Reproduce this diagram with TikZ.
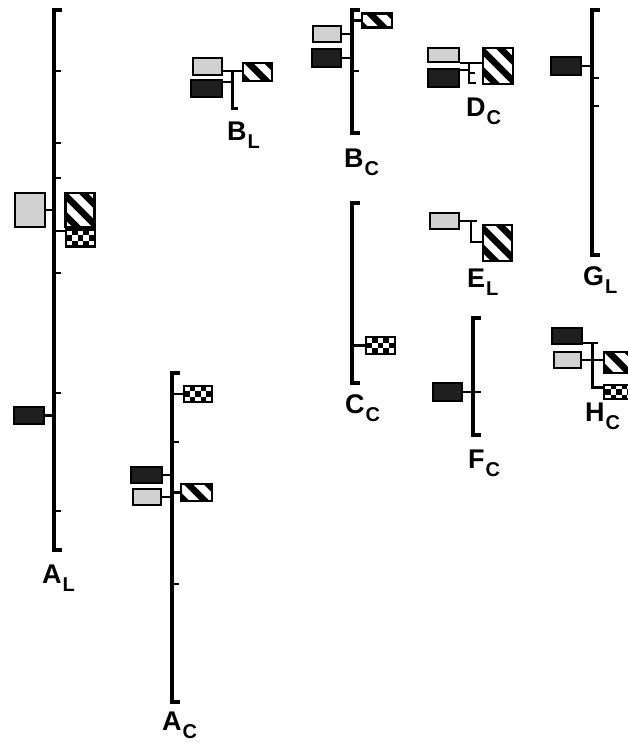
\documentclass[tikz,border=0pt]{standalone}
\usepackage{fontspec}
\setmainfont{Liberation Sans}
\usetikzlibrary{calc}
\newcommand{\lbl}[2]{{\fontsize{27}{27}\selectfont\bfseries #1}\kern1pt\raisebox{-8.5pt}{\fontsize{20}{20}\selectfont\bfseries #2}}
\begin{document}
\begin{tikzpicture}[x=1pt,y=-1pt,
  bar/.style={line width=3.8pt, line join=miter},
  tick/.style={line width=2.6pt},
  conn/.style={line width=2.3pt},
  box/.style={draw, line width=2.2pt, inner sep=0pt, rectangle},
  lightbox/.style={box, fill=black!18},
  darkbox/.style={box, fill=black!88},
  hatchbox/.style={box, fill=white, path picture={
    \foreach \k in {-4,...,4}{\draw[black, line width=6.5pt] ([xshift=\k*20pt]path picture bounding box.center) ++(-40pt,40pt) -- ++(80pt,-80pt);}}},
  checkbox/.style={box, fill=white, path picture={
    \foreach \j in {-2,...,2}{\foreach \i in {-6,-4,...,6}{
      \fill[black] ([xshift={(\i+mod(\j+10,2))*5.5pt-2.75pt}, yshift={\j*5.5pt-2.75pt}]path picture bounding box.center) rectangle ++(5.5pt,5.5pt);
    }}}},
  lab/.style={inner sep=0pt, anchor=base west},
]
\useasboundingbox (0,0) rectangle (628,742);

% ---------- A_L ----------
\coordinate (ALt) at (54,10); \coordinate (ALb) at (54,550);
\draw[bar] ([xshift=8pt]ALt) -- (ALt) -- (ALb) -- ([xshift=8pt]ALb);
\foreach \y in {71,143,178,273,393,511} \draw[tick] (54,\y) -- ++(7,0);
\node[lightbox, minimum width=30pt, minimum height=34pt] (ALl) at (30,210) {};
\node[hatchbox, minimum width=29pt, minimum height=34pt] (ALh) at (80,210) {};
\node[checkbox, minimum width=29pt, minimum height=17pt] (ALc) at (80.5,238) {};
\node[darkbox, minimum width=30pt, minimum height=17pt] (ALd) at (29,415.5) {};
\draw[conn] (ALl.east) -- (ALl.east -| ALt);
\draw[conn] ([yshift=7pt]ALc.west -| ALt) -- ([yshift=7pt]ALc.west);
\draw[conn] (ALd.east) -- (ALd.east -| ALt);
\node[lab] (LAL) at (42,583) {\lbl{A}{L}};

% ---------- A_C ----------
\coordinate (ACt) at (172,373); \coordinate (ACb) at (172,702);
\draw[bar] ([xshift=8pt]ACt) -- (ACt) -- (ACb) -- ([xshift=8pt]ACb);
\foreach \y in {442,584} \draw[tick] (172,\y) -- ++(7,0);
\node[checkbox, minimum width=28pt, minimum height=16pt] (ACc) at (198,394) {};
\node[darkbox, minimum width=31pt, minimum height=16pt] (ACd) at (146.5,475) {};
\node[lightbox, minimum width=28pt, minimum height=16pt] (ACl) at (147,497) {};
\node[hatchbox, minimum width=31pt, minimum height=17pt] (ACh) at (196.5,492.5) {};
\draw[conn] (ACc.west -| ACt) -- (ACc.west);
\draw[conn] (ACd.east) -- (ACd.east -| ACt);
\draw[conn] (ACl.east) -- (ACl.east -| ACt);
\draw[conn] (ACh.west -| ACt) -- (ACh.west);
\node[lab] (LAC) at (162,730) {\lbl{A}{C}};

% ---------- B_L ----------
\coordinate (BLt) at (232,71); \coordinate (BLb) at (232,108);
\node[lightbox, minimum width=29pt, minimum height=17pt] (BLl) at (207.5,66.5) {};
\node[darkbox, minimum width=31pt, minimum height=17pt] (BLd) at (206.5,88.5) {};
\node[hatchbox, minimum width=29pt, minimum height=18pt] (BLh) at (257.5,72) {};
\draw[conn] (BLl.east |- BLt) -- (BLh.west |- BLt);
\draw[bar, line width=3pt] (BLt) -- (BLb) -- ([xshift=6pt]BLb);
\draw[conn] ([yshift=6.5pt]BLd.east) -- ([yshift=6.5pt]BLd.east -| BLt);
\node[lab] (LBL) at (227,140) {\lbl{B}{L}};

% ---------- B_C ----------
\coordinate (BCt) at (352,10); \coordinate (BCb) at (352,133);
\draw[bar, line width=3.2pt] ([xshift=8pt]BCt) -- (BCt) -- (BCb) -- ([xshift=8pt]BCb);
\draw[tick] (352,71) -- ++(7,0);
\node[hatchbox, minimum width=30pt, minimum height=14pt] (BCh) at (377,20.5) {};
\node[lightbox, minimum width=28pt, minimum height=16pt] (BCl) at (327,34) {};
\node[darkbox, minimum width=29pt, minimum height=18pt] (BCd) at (326.5,58) {};
\draw[conn] (BCh.west -| BCt) -- (BCh.west);
\draw[conn] (BCl.east) -- (BCl.east -| BCt);
\draw[conn] (BCd.east) -- (BCd.east -| BCt);
\node[lab] (LBC) at (344,167) {\lbl{B}{C}};

% ---------- D_C ----------
\node[lightbox, minimum width=31pt, minimum height=14pt] (DCl) at (443.5,55) {};
\node[darkbox, minimum width=31pt, minimum height=18pt] (DCd) at (443.5,78) {};
\node[hatchbox, minimum width=30pt, minimum height=36pt] (DCh) at (498,66) {};
\coordinate (DCt) at (469,63); \coordinate (DCb) at (469,83);
\draw[conn] (DCl.east |- DCt) -- (DCh.west |- DCt);
\draw[tick] (DCt) -- (DCb) -- ([xshift=7pt]DCb);
\draw[tick] ($(DCt)!0.5!(DCb)$) -- ++(6,0);
\draw[conn] ([yshift=8pt]DCd.east) -- ([yshift=8pt]DCd.east -| DCt);
\node[lab] (LDC) at (466,116) {\lbl{D}{C}};

% ---------- G_L ----------
\coordinate (GLt) at (592,10); \coordinate (GLb) at (592,255);
\draw[bar] ([xshift=8pt]GLt) -- (GLt) -- (GLb) -- ([xshift=8pt]GLb);
\foreach \y in {78,106} \draw[tick] (592,\y) -- ++(7,0);
\node[darkbox, minimum width=30pt, minimum height=18pt] (GLd) at (566,66) {};
\draw[conn] (GLd.east) -- (GLd.east -| GLt);
\node[lab] (LGL) at (583,285) {\lbl{G}{L}};

% ---------- E_L ----------
\node[lightbox, minimum width=29pt, minimum height=16pt] (ELl) at (444.5,221) {};
\node[hatchbox, minimum width=29pt, minimum height=36pt] (ELh) at (497.5,243) {};
\coordinate (ELt) at (471,221); \coordinate (ELb) at (471,242);
\draw[conn] (ELl.east) -- (ELt);
\draw[tick] ([xshift=6pt]ELt) -- (ELt) -- (ELb) -- (ELb -| ELh.west);
\node[lab] (LEL) at (467,287) {\lbl{E}{L}};

% ---------- C_C ----------
\coordinate (CCt) at (352,203); \coordinate (CCb) at (352,383);
\draw[bar, line width=3.2pt] ([xshift=8pt]CCt) -- (CCt) -- (CCb) -- ([xshift=8pt]CCb);
\node[checkbox, minimum width=29pt, minimum height=17pt] (CCc) at (380.5,345.5) {};
\draw[conn] (CCc.west -| CCt) -- (CCc.west);
\node[lab] (LCC) at (345,413) {\lbl{C}{C}};

% ---------- F_C ----------
\coordinate (FCt) at (473,318); \coordinate (FCb) at (473,435);
\draw[bar] ([xshift=8pt]FCt) -- (FCt) -- (FCb) -- ([xshift=8pt]FCb);
\node[darkbox, minimum width=29pt, minimum height=18pt] (FCd) at (447.5,392) {};
\draw[conn] (FCd.east) -- ([xshift=8pt]FCd.east -| FCt);
\node[lab] (LFC) at (468,468) {\lbl{F}{C}};

% ---------- H_C ----------
\node[darkbox, minimum width=30pt, minimum height=16pt] (HCd) at (567,336) {};
\node[lightbox, minimum width=27pt, minimum height=16pt] (HCl) at (567.5,360) {};
\node[hatchbox, minimum width=30pt, minimum height=21pt] (HCh) at (619,362.5) {};
\node[checkbox, minimum width=30pt, minimum height=14pt] (HCc) at (619,392) {};
\coordinate (HCt) at (592,343); \coordinate (HCb) at (592,387);
\draw[conn] ([yshift=-7pt]HCd.east) -- ([xshift=6pt]HCt);
\draw[bar, line width=3pt] (HCt) -- (HCb) -- (HCb -| HCc.west);
\draw[conn] (HCl.east) -- (HCl.east -| HCh.west);
\node[lab] (LHC) at (585,421) {\lbl{H}{C}};
\end{tikzpicture}
\end{document}
